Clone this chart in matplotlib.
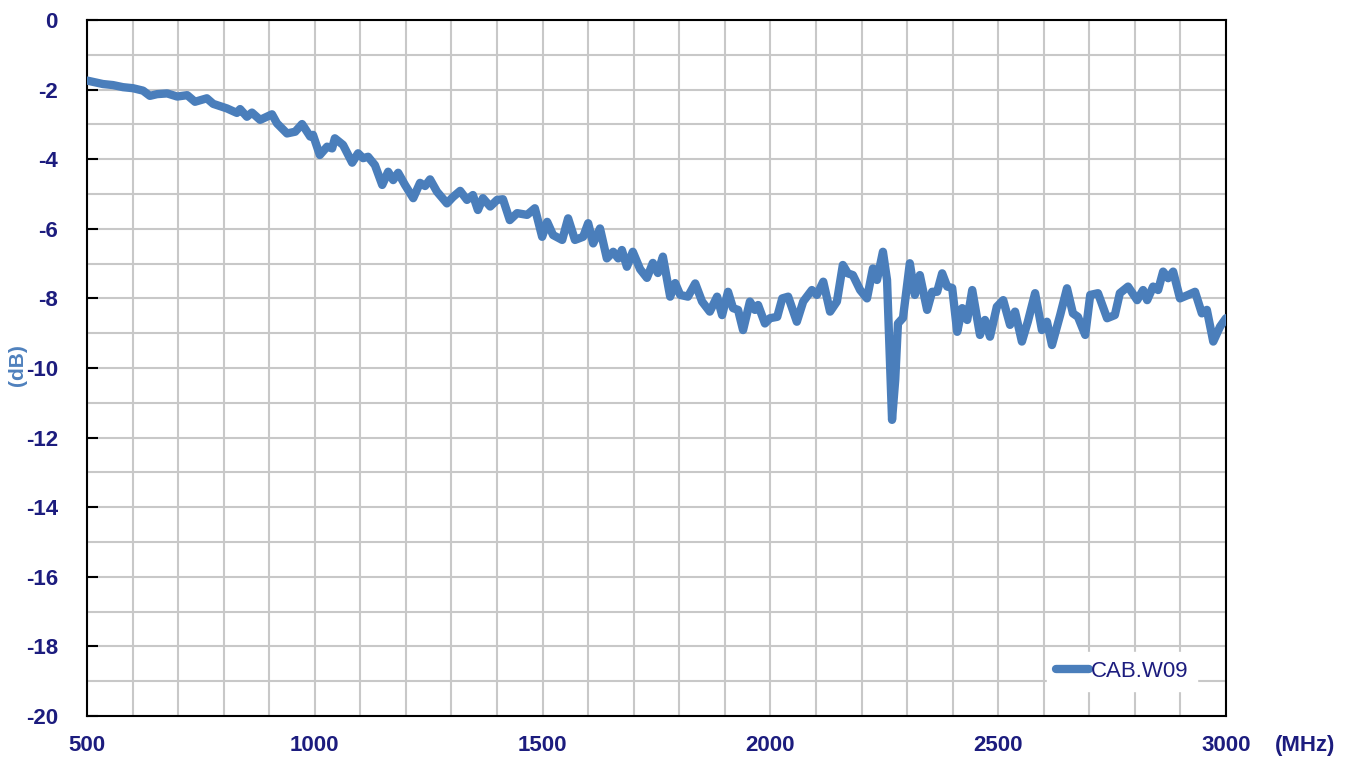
import matplotlib
matplotlib.use("Agg")
import matplotlib.pyplot as plt
from matplotlib.ticker import MultipleLocator

freq_mhz = [500, 535, 557, 579, 601, 623, 638, 654, 676, 698, 720, 737, 763, 777, 807, 829, 836, 851, 862, 880,
            906, 917, 939, 957, 972, 990, 996, 1011, 1027, 1038, 1044, 1062, 1082, 1095, 1106, 1117, 1132, 1148,
            1161, 1172, 1183, 1198, 1216, 1231, 1242, 1253, 1268, 1290, 1303, 1319, 1334, 1347, 1358, 1369, 1385,
            1400, 1413, 1428, 1444, 1466, 1483, 1499, 1510, 1523, 1543, 1556, 1571, 1589, 1600, 1611, 1626, 1641,
            1655, 1666, 1674, 1685, 1698, 1714, 1729, 1742, 1753, 1764, 1780, 1791, 1802, 1819, 1835, 1850, 1867,
            1883, 1894, 1907, 1918, 1929, 1940, 1955, 1966, 1973, 1988, 1999, 2015, 2026, 2039, 2058, 2072, 2091,
            2102, 2116, 2131, 2146, 2159, 2170, 2181, 2197, 2212, 2225, 2234, 2247, 2256, 2263, 2267, 2274, 2280,
            2291, 2306, 2317, 2328, 2344, 2355, 2366, 2377, 2388, 2399, 2410, 2421, 2432, 2443, 2460, 2471, 2482,
            2497, 2511, 2526, 2537, 2552, 2565, 2581, 2596, 2607, 2618, 2636, 2651, 2664, 2675, 2691, 2702, 2719,
            2739, 2756, 2767, 2785, 2805, 2818, 2827, 2840, 2851, 2862, 2873, 2884, 2899, 2917, 2932, 2947, 2958,
            2972, 2987, 3000]

loss_db = [-1.74, -1.84, -1.87, -1.93, -1.96, -2.03, -2.18, -2.13, -2.11, -2.20, -2.16, -2.35, -2.25, -2.41, -2.54,
           -2.67, -2.56, -2.78, -2.66, -2.87, -2.71, -2.97, -3.26, -3.21, -2.99, -3.35, -3.30, -3.88, -3.64, -3.69,
           -3.40, -3.59, -4.10, -3.83, -3.97, -3.93, -4.17, -4.74, -4.36, -4.60, -4.39, -4.74, -5.12, -4.68, -4.77,
           -4.58, -4.93, -5.27, -5.09, -4.91, -5.17, -5.03, -5.46, -5.12, -5.36, -5.17, -5.15, -5.75, -5.55, -5.60,
           -5.41, -6.23, -5.80, -6.18, -6.32, -5.70, -6.32, -6.23, -5.84, -6.42, -5.99, -6.85, -6.66, -6.85, -6.61,
           -7.09, -6.66, -7.16, -7.41, -6.98, -7.27, -6.80, -7.95, -7.56, -7.90, -7.95, -7.57, -8.09, -8.38, -7.95,
           -8.48, -7.81, -8.28, -8.33, -8.91, -8.09, -8.33, -8.19, -8.72, -8.57, -8.53, -8.00, -7.95, -8.67, -8.09,
           -7.76, -7.90, -7.52, -8.38, -8.09, -7.04, -7.28, -7.33, -7.76, -8.00, -7.14, -7.47, -6.66, -7.47, -10.06,
           -11.49, -10.34, -8.72, -8.56, -6.99, -7.90, -7.33, -8.33, -7.81, -7.81, -7.28, -7.66, -7.70, -8.96, -8.28,
           -8.62, -7.76, -9.05, -8.62, -9.10, -8.24, -8.05, -8.76, -8.38, -9.24, -8.67, -7.85, -8.91, -8.67, -9.34,
           -8.48, -7.71, -8.43, -8.53, -9.05, -7.90, -7.85, -8.57, -8.48, -7.85, -7.66, -8.05, -7.76, -8.05, -7.66,
           -7.76, -7.23, -7.42, -7.23, -8.00, -7.90, -7.81, -8.43, -8.33, -9.24, -8.81, -8.57]

series_name = "CAB.W09"
x_ticks = [500, 1000, 1500, 2000, 2500, 3000]
y_ticks = [0, -2, -4, -6, -8, -10, -12, -14, -16, -18, -20]

navy = "#1c1c7e"
line_color = "#4a7ebb"

plt.rcParams['font.family'] = ['Liberation Sans', 'DejaVu Sans']
plt.rcParams['axes.unicode_minus'] = False

fig = plt.figure(figsize=(13.53, 7.63), dpi=100)
ax = fig.add_axes([87 / 1353, 1 - 716 / 763, (1226 - 87) / 1353, (716 - 20) / 763])

ax.plot(freq_mhz, loss_db, color=line_color, lw=6, solid_joinstyle='round',
        solid_capstyle='round', label=series_name, zorder=3)

ax.set_xlim(500, 3000)
ax.set_ylim(-20, 0)
ax.set_xticks(x_ticks)
ax.set_yticks(y_ticks)
ax.xaxis.set_minor_locator(MultipleLocator(100))
ax.yaxis.set_minor_locator(MultipleLocator(1))
ax.grid(which='both', color='#c8c8c8', lw=1.5, zorder=0)
ax.set_axisbelow(True)

for s in ax.spines.values():
    s.set_color('black')
    s.set_linewidth(1.5)

ax.tick_params(axis='y', which='major', direction='in', length=8, width=1.5, color='black',
               labelsize=16, labelcolor=navy, pad=21)
ax.tick_params(axis='x', which='major', direction='in', length=0, labelsize=16, labelcolor=navy, pad=14)
ax.tick_params(which='minor', length=0)
for lab in ax.get_xticklabels() + ax.get_yticklabels():
    lab.set_fontweight('bold')

fig.text(1305 / 1353, 1 - 745 / 763, "(MHz)", color=navy, fontsize=16, fontweight='bold',
         ha='center', va='center')
fig.text(17 / 1353, 1 - 365 / 763, "(dB)", color='#4f81bd', fontsize=15, fontweight='bold',
         ha='center', va='center', rotation=90)

leg = ax.legend(loc='lower right', bbox_to_anchor=(1208 / 1353, 1 - 702 / 763),
                bbox_transform=fig.transFigure, frameon=True, fancybox=False,
                facecolor='white', edgecolor='white', framealpha=1, fontsize=16,
                handlelength=1.5, handletextpad=0.05, borderpad=0.4)
for t in leg.get_texts():
    t.set_color(navy)

fig.savefig("out.png", dpi=100)
